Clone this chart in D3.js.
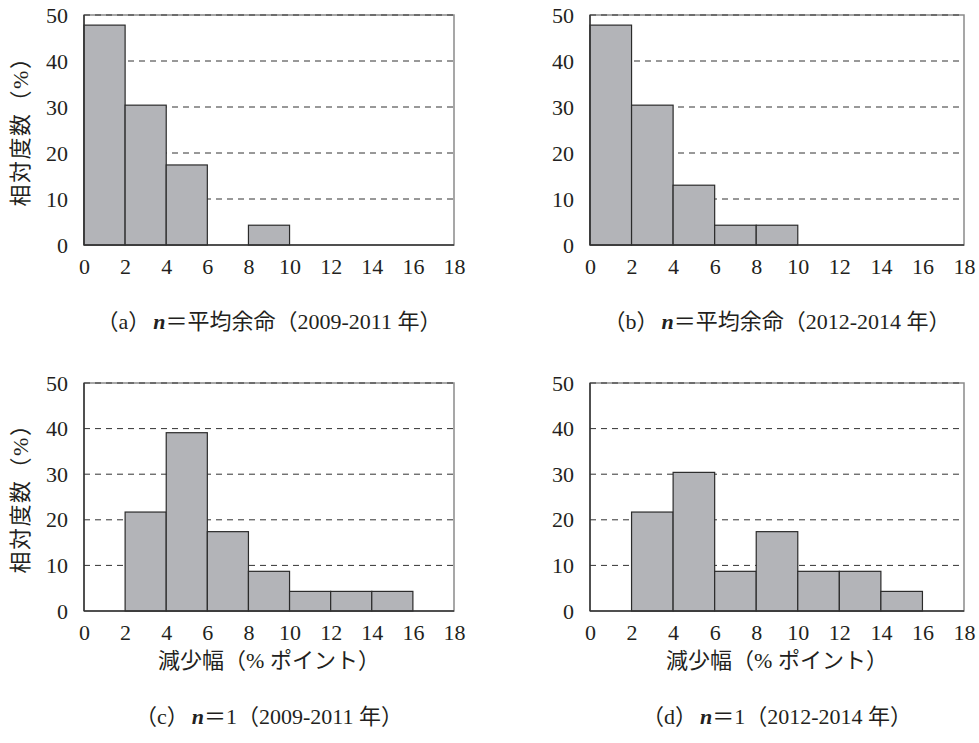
<!DOCTYPE html>
<html>
<head>
<meta charset="utf-8">
<script src="https://cdn.jsdelivr.net/npm/d3@7"></script>
<style>
  html, body { margin: 0; padding: 0; background: #fff; }
  svg { display: block; }
  .tick text { font-family: "Liberation Serif", "Times New Roman", serif; }
</style>
</head>
<body>
<svg id="chart" width="979" height="743"></svg>
<script>
// ---- data ----
const binStarts = [0, 2, 4, 6, 8, 10, 12, 14, 16];
const binWidth = 2;
const xTicks = [0, 2, 4, 6, 8, 10, 12, 14, 16, 18];
const yTicks = [0, 10, 20, 30, 40, 50];
const valuesA = [47.8, 30.4, 17.4, 0, 4.3, 0, 0, 0, 0];
const valuesB = [47.8, 30.4, 13.0, 4.3, 4.3, 0, 0, 0, 0];
const valuesC = [0, 21.7, 39.1, 17.4, 8.7, 4.3, 4.3, 4.3, 0];
const valuesD = [0, 21.7, 30.4, 8.7, 17.4, 8.7, 8.7, 4.3, 0];
const yLabel = "相対度数（%）";
const xLabel = "減少幅（% ポイント）";
const captionParts = [
  ["（a）", "n", "＝平均余命（2009-2011 年）"],
  ["（b）", "n", "＝平均余命（2012-2014 年）"],
  ["（c）", "n", "＝1（2009-2011 年）"],
  ["（d）", "n", "＝1（2012-2014 年）"]
];

// ---- layout ----
const panels = [
  { values: valuesA, x0: 84, x1: 454, y0: 15, y1: 245, yLab: true, xLab: false, capY: 329 },
  { values: valuesB, x0: 590, x1: 964, y0: 15, y1: 245, yLab: false, xLab: false, capY: 329 },
  { values: valuesC, x0: 84, x1: 454, y0: 383, y1: 611, yLab: true, xLab: true, capY: 724 },
  { values: valuesD, x0: 590, x1: 964, y0: 383, y1: 611, yLab: false, xLab: true, capY: 724 }
];

const serif = "Liberation Serif, Times New Roman, serif";
const cjk = "Liberation Serif, Noto Sans CJK JP, sans-serif";
const textColor = "#231f20";
const svg = d3.select("#chart");

panels.forEach((p, i) => {
  const x = d3.scaleLinear().domain([0, 18]).range([p.x0, p.x1]);
  const y = d3.scaleLinear().domain([0, 50]).range([p.y1, p.y0]);
  const g = svg.append("g");

  // frame
  g.append("rect")
    .attr("x", x(0)).attr("y", y(50))
    .attr("width", x(18) - x(0)).attr("height", y(0) - y(50))
    .attr("fill", "none").attr("stroke", "#8a8a8a").attr("stroke-width", 1.5);

  // dashed grid lines
  g.selectAll("line.grid").data(yTicks.filter(d => d > 0)).join("line")
    .attr("class", "grid")
    .attr("x1", x(0)).attr("x2", x(18))
    .attr("y1", d => y(d)).attr("y2", d => y(d))
    .attr("stroke", "#333").attr("stroke-width", 1)
    .attr("stroke-dasharray", "6,5");

  // bars
  const bins = binStarts.map((s, k) => ({ s, v: p.values[k] })).filter(d => d.v > 0);
  g.selectAll("rect.bar").data(bins).join("rect")
    .attr("class", "bar")
    .attr("x", d => x(d.s))
    .attr("y", d => y(d.v))
    .attr("width", d => x(d.s + binWidth) - x(d.s))
    .attr("height", d => y(0) - y(d.v))
    .attr("fill", "#b3b4b8")
    .attr("stroke", "#2b2b2b")
    .attr("stroke-width", 1.2);

  // left and bottom axis lines
  g.append("line")
    .attr("x1", x(0)).attr("x2", x(0)).attr("y1", y(0)).attr("y2", y(50))
    .attr("stroke", "#333").attr("stroke-width", 1.5);
  g.append("line")
    .attr("x1", x(0)).attr("x2", x(18)).attr("y1", y(0)).attr("y2", y(0))
    .attr("stroke", "#333").attr("stroke-width", 1.5);

  // y tick labels
  const yAxis = d3.axisLeft(y).tickValues(yTicks).tickSize(0).tickPadding(16);
  const ya = g.append("g").attr("transform", `translate(${x(0)},0)`).call(yAxis);
  ya.select(".domain").remove();
  ya.attr("font-family", null).attr("font-size", null);
  ya.selectAll("text").style("font-family", serif).style("font-size", "22px").attr("fill", textColor);

  // x tick labels
  const xAxis = d3.axisBottom(x).tickValues(xTicks).tickSize(0).tickPadding(13);
  const xa = g.append("g").attr("transform", `translate(0,${y(0)})`).call(xAxis);
  xa.select(".domain").remove();
  xa.attr("font-family", null).attr("font-size", null);
  xa.selectAll("text").style("font-family", serif).style("font-size", "22px").attr("fill", textColor);

  const cx = (p.x0 + p.x1) / 2;
  const cy = (p.y0 + p.y1) / 2;

  if (p.yLab) {
    svg.append("text")
      .attr("transform", `translate(28,${cy - 4}) rotate(-90)`)
      .attr("text-anchor", "middle")
      .style("font-family", cjk).style("font-size", "22px").attr("fill", textColor)
      .attr("letter-spacing", 1.5)
      .text(yLabel);
  }
  if (p.xLab) {
    svg.append("text")
      .attr("x", cx).attr("y", 668)
      .attr("text-anchor", "middle")
      .style("font-family", cjk).style("font-size", "22px").attr("fill", textColor)
      .text(xLabel);
  }

  // caption
  const cap = svg.append("text")
    .attr("x", cx).attr("y", p.capY)
    .attr("text-anchor", "middle")
    .style("font-family", cjk).style("font-size", "22px").attr("fill", textColor);
  const parts = captionParts[i];
  cap.append("tspan").text(parts[0]);
  cap.append("tspan").attr("font-style", "italic").attr("font-weight", "bold")
    .style("font-family", serif).attr("dx", 3).text(parts[1]);
  cap.append("tspan").text(parts[2]);
});
</script>
</body>
</html>
